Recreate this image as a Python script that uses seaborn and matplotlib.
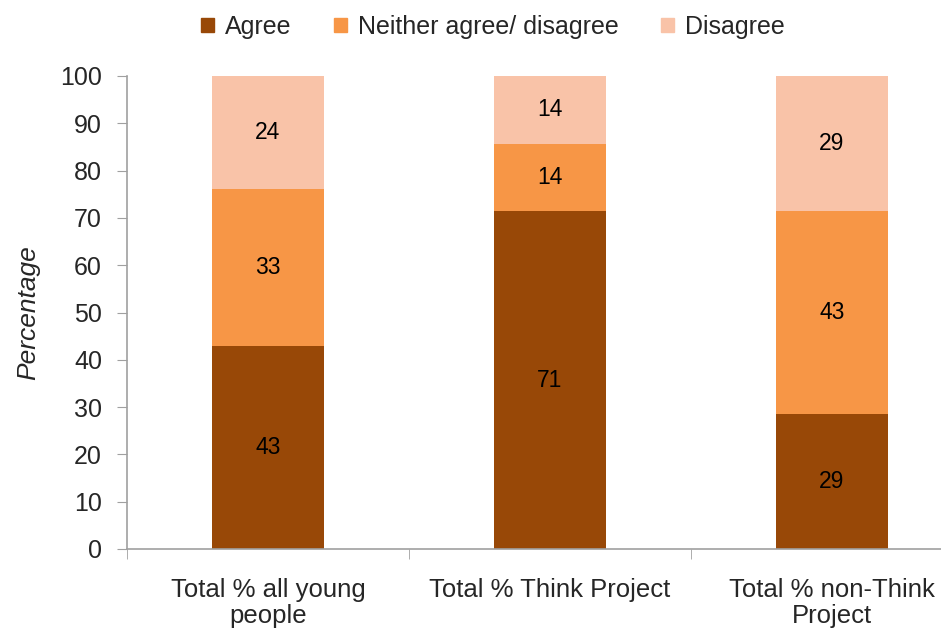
import matplotlib
matplotlib.use("Agg")
import matplotlib.pyplot as plt
import numpy as np
import pandas as pd
import seaborn as sns

groups = ["Total % all young\npeople", "Total % Think Project", "Total % non-Think\nProject"]
agree = [42.9, 71.4, 28.6]
neither = [33.3, 14.3, 42.9]
disagree = [23.8, 14.3, 28.6]
series = ["Agree", "Neither agree/ disagree", "Disagree"]
colors = ["#984807", "#F79646", "#F9C3A8"]

sns.set_style("white")
plt.rcParams['font.family'] = ['Liberation Sans', 'DejaVu Sans']

df = pd.DataFrame({"group": groups, "Agree": agree,
                   "Neither agree/ disagree": neither, "Disagree": disagree})

fig = plt.figure(figsize=(9.41, 6.32), dpi=100)
ax = fig.add_axes([127 / 941, 1 - 549 / 632, 846 / 941, 473 / 632])

# stacked: draw cumulative totals, tallest first
cum = df[series].cumsum(axis=1).clip(upper=100)
for name, col in reversed(list(zip(series, colors))):
    sns.barplot(x=df["group"], y=cum[name], color=col, width=0.4,
                saturation=1, ax=ax, linewidth=0, legend=False)

# segment labels
bottoms = np.zeros(len(groups))
for name in series:
    vals = df[name].values
    for i, v in enumerate(vals):
        ax.text(i, bottoms[i] + v / 2, f"{v:.0f}", ha="center", va="center",
                fontsize=16.5, color="black")
    bottoms += vals

ax.set_xlim(-0.5, 2.5)
ax.set_ylim(0, 100)
ax.set_yticks(range(0, 101, 10))
ax.set_xlabel("")
ax.set_ylabel("Percentage", fontsize=19, style="italic", labelpad=14)

for s in ["top", "right"]:
    ax.spines[s].set_visible(False)
for s in ["left", "bottom"]:
    ax.spines[s].set_color("#A0A0A0")
    ax.spines[s].set_linewidth(1.2)

ax.tick_params(axis="y", direction="out", length=7, color="#A0A0A0",
               labelsize=18, left=True, pad=11)
ax.set_xticks([-0.5, 0.5, 1.5, 2.5], minor=True)
ax.tick_params(axis="x", which="minor", direction="out", length=7,
               color="#A0A0A0", bottom=True)
ax.tick_params(axis="x", which="major", length=0, labelsize=18.5, pad=21)
ax.set_xticks(range(len(groups)))
ax.set_xticklabels(groups, linespacing=1.1)

handles = [plt.Rectangle((0, 0), 1, 1, color=c) for c in colors]
fig.legend(handles, series, loc="center", bbox_to_anchor=(0.524, 0.958),
           ncol=3, frameon=False, fontsize=18, handlelength=0.5,
           handleheight=0.5, handletextpad=0.45, columnspacing=1.7,
           borderpad=0)

fig.savefig("out.png", dpi=100)
